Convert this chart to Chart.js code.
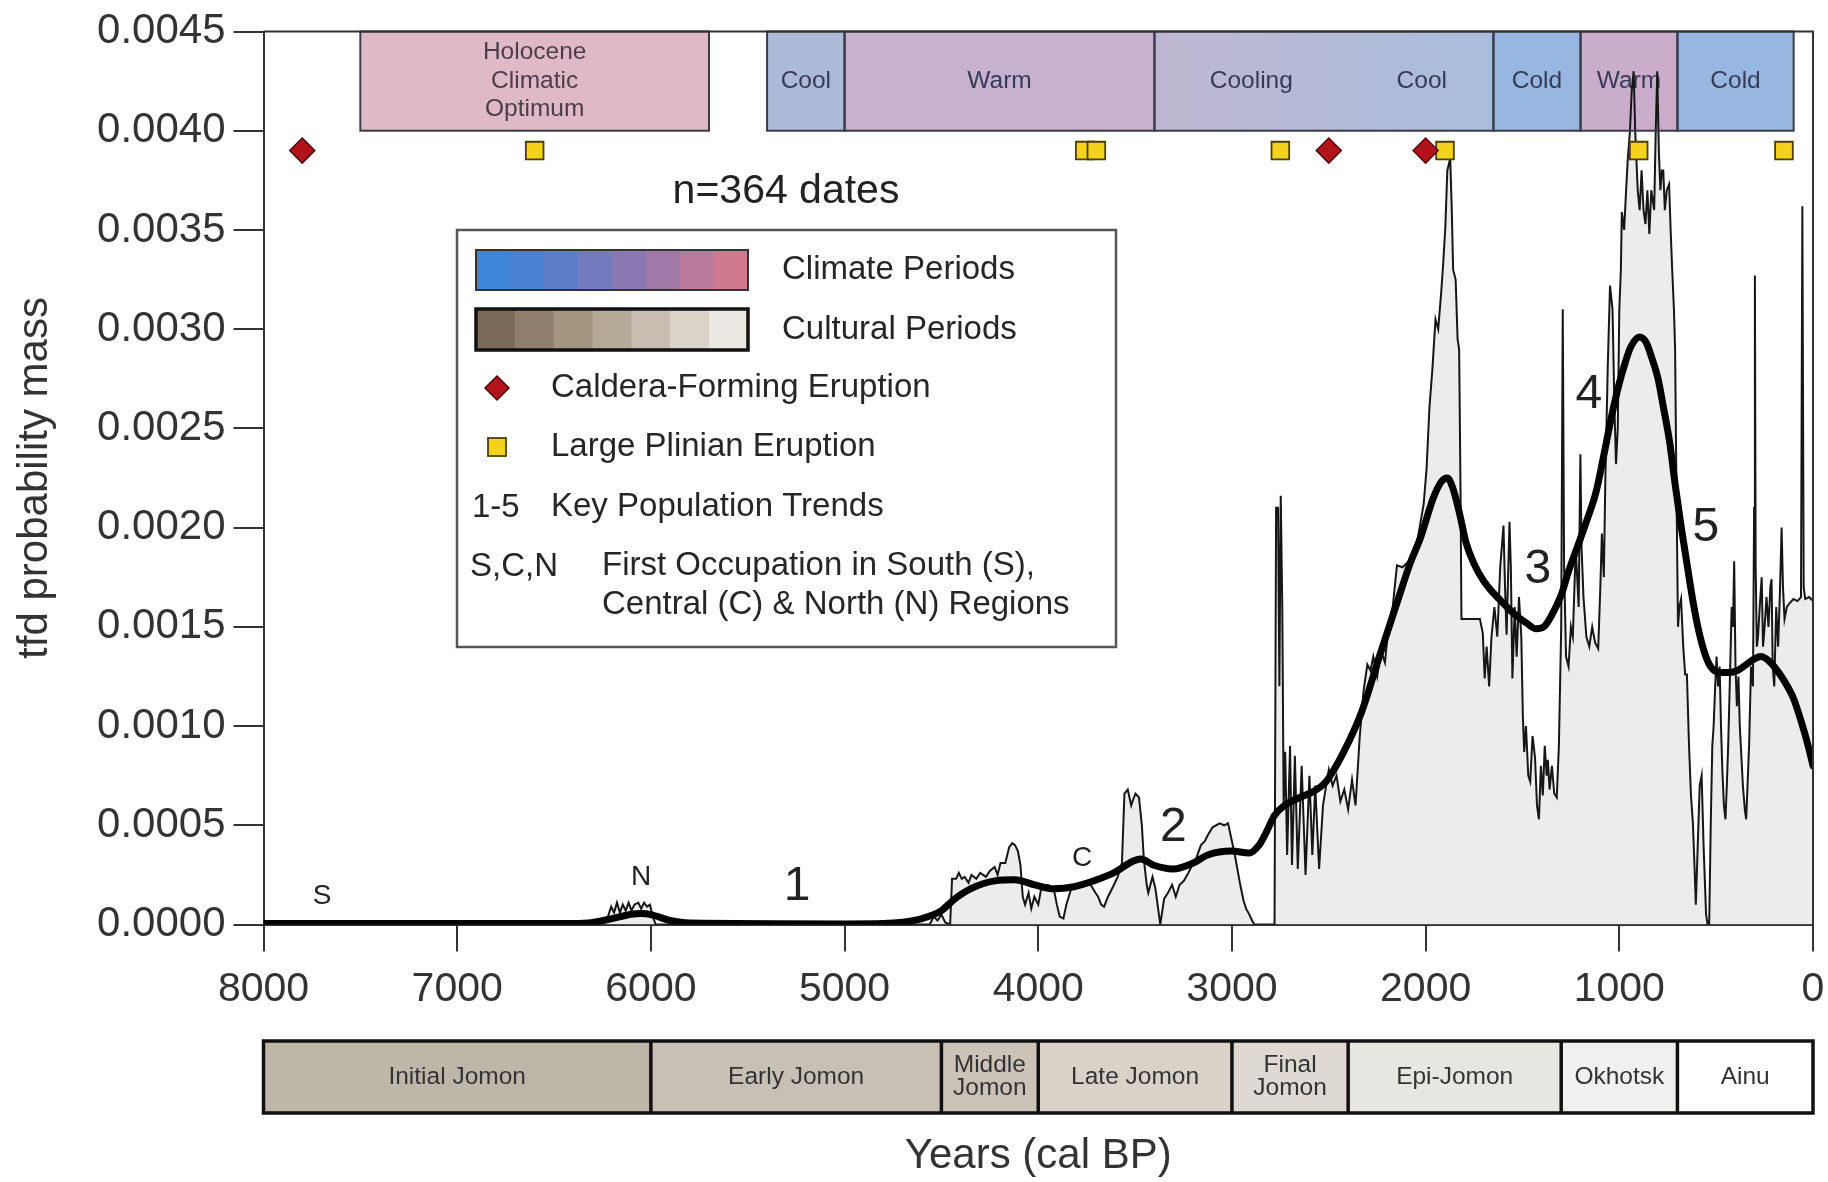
<!DOCTYPE html>
<html><head><meta charset="utf-8">
<script src="https://cdn.jsdelivr.net/npm/chart.js@4.4.0/dist/chart.umd.min.js"></script>
<style>html,body{margin:0;padding:0;background:#fff;}canvas{display:block}</style>
</head><body>
<canvas id="c" width="1828" height="1182"></canvas>
<script>
// ---------------- DATA ----------------
// thin (raw) summed probability curve: [year cal BP, probability mass]
const rawCurve = [
[8000,0],[6260,0],[6225,0.00003],[6205,0.00009],[6190,0.00006],[6175,0.00011],[6160,0.00006],[6145,0.0001],[6130,0.00007],[6115,0.00011],
[6100,0.00007],[6085,0.0001],[6065,0.00011],[6050,0.00008],[6035,0.00011],[6020,0.00009],[6005,0.0001],[5990,0.00004],[5975,0],[4560,0],
[4540,0.00004],[4520,0.00002],[4500,0.00005],[4480,0.00001],[4455,0],[4445,0.00023],[4424,0.00023],[4410,0.00026],[4395,0.00023],[4380,0.00024],
[4360,0.00021],[4345,0.00025],[4320,0.00023],[4300,0.00026],[4270,0.00024],[4250,0.00027],[4225,0.00029],[4210,0.00025],[4195,0.00031],[4170,0.00031],
[4150,0.00039],[4134,0.00041],[4120,0.0004],[4105,0.00037],[4092,0.0003],[4080,0.00014],[4068,0.0001],[4050,0.00016],[4036,0.00008],[4020,0.00014],
[4000,0.0001],[3985,0.00018],[3950,0.0002],[3920,0.00018],[3904,0.0001],[3889,0.00004],[3870,0.00003],[3855,0.0001],[3830,0.00018],[3800,0.0002],
[3760,0.00021],[3736,0.00021],[3705,0.00016],[3691,0.00014],[3675,0.0001],[3660,0.00009],[3640,0.00014],[3614,0.00019],[3590,0.00024],[3568,0.00031],
[3555,0.00066],[3538,0.00068],[3520,0.0006],[3510,0.00063],[3498,0.00066],[3480,0.00064],[3465,0.0005],[3455,0.00033],[3440,0.0002],[3432,0.00016],
[3410,0.00024],[3395,0.00018],[3370,0],[3350,0.00013],[3330,0.00016],[3309,0.0002],[3290,0.00014],[3270,0.0002],[3248,0.00022],[3225,0.00026],
[3200,0.00031],[3186,0.00033],[3160,0.0004],[3140,0.00042],[3125,0.00045],[3100,0.00049],[3064,0.00051],[3040,0.0005],[3020,0.00051],[3009,0.00046],
[2985,0.00035],[2957,0.0002],[2940,0.00012],[2927,0.00008],[2910,0.00005],[2896,0.00002],[2885,0],[2780,0],[2772,0.0021],[2762,0.0021],
[2755,0.0012],[2748,0.00216],[2740,0.0016],[2733,0.0006],[2725,0.00087],[2715,0.00035],[2700,0.0009],[2690,0.0003],[2675,0.00085],[2660,0.00028],
[2640,0.0008],[2620,0.00025],[2600,0.00075],[2585,0.00035],[2570,0.0007],[2550,0.00028],[2530,0.0006],[2500,0.00078],[2480,0.0007],[2460,0.00075],
[2440,0.00062],[2420,0.00068],[2400,0.00058],[2380,0.00073],[2362,0.0006],[2340,0.00095],[2320,0.00118],[2301,0.00131],[2285,0.00128],[2270,0.00135],
[2250,0.00125],[2230,0.00138],[2210,0.00132],[2190,0.00152],[2170,0.0016],[2148,0.00181],[2120,0.0018],[2087,0.00183],[2060,0.00187],[2040,0.00195],
[2010,0.00212],[1995,0.0023],[1980,0.00261],[1965,0.0028],[1949,0.00305],[1935,0.003],[1920,0.00318],[1910,0.00332],[1898,0.00352],[1888,0.0038],
[1873,0.00386],[1865,0.0036],[1858,0.0033],[1845,0.00325],[1835,0.00295],[1827,0.0029],[1820,0.0022],[1815,0.00154],[1720,0.00154],[1705,0.00147],
[1695,0.00124],[1685,0.0014],[1672,0.0012],[1660,0.00145],[1645,0.0016],[1630,0.00145],[1615,0.0018],[1598,0.00201],[1590,0.0017],[1582,0.00146],
[1567,0.00203],[1560,0.0018],[1552,0.00124],[1540,0.0016],[1530,0.00135],[1518,0.00165],[1506,0.00145],[1498,0.00105],[1491,0.00087],[1482,0.001],
[1470,0.00075],[1460,0.00072],[1448,0.00095],[1435,0.00084],[1425,0.0006],[1415,0.00053],[1405,0.0008],[1395,0.00065],[1385,0.0009],[1375,0.00075],
[1369,0.00083],[1360,0.00068],[1348,0.0008],[1336,0.00066],[1323,0.00064],[1312,0.0009],[1300,0.0015],[1292,0.0031],[1285,0.0018],[1275,0.00135],
[1262,0.0013],[1250,0.0015],[1240,0.00145],[1225,0.0019],[1210,0.0016],[1201,0.00237],[1195,0.0019],[1185,0.00165],[1170,0.00145],[1155,0.0014],
[1140,0.0015],[1125,0.00142],[1109,0.00139],[1098,0.0017],[1090,0.00197],[1080,0.00175],[1072,0.00225],[1060,0.0028],[1048,0.00322],[1035,0.0031],
[1025,0.0026],[1017,0.00232],[1008,0.0025],[1000,0.0031],[992,0.0033],[987,0.00359],[975,0.0035],[965,0.0037],[956,0.00386],[945,0.004],
[936,0.0042],[926,0.0043],[918,0.004],[905,0.0037],[895,0.0036],[885,0.0038],[875,0.0036],[865,0.00353],[855,0.0037],[845,0.00348],
[835,0.0037],[820,0.0036],[812,0.004],[804,0.0043],[796,0.0039],[788,0.0037],[780,0.0038],[773,0.0038],[765,0.0036],[755,0.0037],
[743,0.00373],[735,0.0035],[727,0.0033],[718,0.0031],[712,0.0029],[705,0.0022],[697,0.0015],[690,0.0016],[681,0.00164],[670,0.0014],
[660,0.00126],[651,0.00126],[640,0.0009],[630,0.00065],[620,0.00051],[612,0.0003],[605,0.0001],[595,0.0004],[585,0.0007],[575,0.00075],
[565,0.0004],[552,0.00005],[544,0],[536,0],[528,0.0005],[520,0.0009],[513,0.001],[505,0.0012],[498,0.00135],[490,0.0012],
[482,0.0013],[475,0.001],[468,0.00078],[460,0.0006],[452,0.00053],[445,0.0007],[438,0.0009],[430,0.0012],[420,0.0016],[413,0.0015],
[407,0.00183],[400,0.0013],[393,0.0011],[385,0.00125],[378,0.001],[370,0.00085],[362,0.0007],[352,0.00058],[345,0.00053],[338,0.0007],
[330,0.0009],[320,0.0013],[310,0.0012],[304,0.0021],[300,0.00327],[296,0.0018],[290,0.0014],[284,0.00145],[275,0.0016],[265,0.00175],
[258,0.0014],[250,0.0015],[240,0.00165],[230,0.0015],[220,0.0017],[214,0.00174],[208,0.0013],[200,0.0012],[190,0.0016],[180,0.0014],
[170,0.0017],[162,0.002],[155,0.0017],[147,0.00154],[135,0.0016],[120,0.00162],[101,0.00164],[80,0.00163],[62,0.00165],[55,0.00362],
[48,0.0017],[40,0.00164],[20,0.00165],[0,0.00163]
];

// smoothed trend curve: [year cal BP, probability mass]
const smoothCurve = [
[8000,0.000005],[6400,0.000005],[6300,0.00001],[6200,0.00003],[6100,0.000052],[6050,0.000055],[6000,0.00005],[5900,0.00002],[5800,0.000007],[5000,0.000003],
[4800,0.000005],[4700,0.000012],[4600,0.00003],[4500,0.00007],[4430,0.00013],[4350,0.00018],[4224,0.00022],[4122,0.000225],[4019,0.0002],[3918,0.00018],
[3816,0.00019],[3714,0.00022],[3611,0.00026],[3509,0.00032],[3470,0.00033],[3407,0.0003],[3305,0.00028],[3200,0.00031],[3125,0.00035],[3003,0.00037],
[2912,0.00036],[2860,0.0004],[2820,0.00047],[2780,0.00055],[2728,0.0006],[2650,0.00064],[2580,0.00067],[2514,0.00072],[2423,0.00087],[2331,0.00107],
[2239,0.00135],[2148,0.00162],[2080,0.00182],[2026,0.00195],[1960,0.00215],[1920,0.00223],[1888,0.00225],[1860,0.0022],[1827,0.00208],[1790,0.00192],
[1751,0.00182],[1700,0.00173],[1659,0.00168],[1600,0.00162],[1537,0.00156],[1480,0.00152],[1430,0.00149],[1390,0.0015],[1354,0.00155],[1300,0.00166],
[1262,0.00178],[1210,0.00192],[1170,0.00203],[1120,0.00218],[1079,0.00237],[1040,0.00256],[1002,0.00272],[970,0.00283],[941,0.00291],[895,0.00296],
[860,0.00293],[834,0.00286],[800,0.00275],[773,0.00261],[740,0.00243],[712,0.00222],[680,0.002],[651,0.00182],[620,0.00163],[590,0.00148],
[560,0.00137],[529,0.0013],[480,0.00127],[437,0.00127],[390,0.00128],[345,0.00131],[300,0.00134],[269,0.00135],[230,0.00133],[193,0.00129],
[150,0.00123],[101,0.00114],[60,0.00102],[25,0.0009],[0,0.0008]
];

// eruptions (years cal BP), drawn at one level
const calderaYears = [7800, 2500, 2000];
const plinianYears = [6600, 3760, 3700, 2750, 1900, 900, 150];
const eruptionLevel = 0.0039;

// climate periods (top band, between two probability levels)
const climateStart = [7500, 5400, 5000, 3400, 1650, 1200, 700];
const climateEnd   = [5700, 5000, 3400, 1650, 1200, 700, 100];
const climateTexts = ['Holocene\nClimatic\nOptimum', 'Cool', 'Warm', 'Cooling', 'Cool', 'Cold', 'Warm', 'Cold'];
const climateTextYears = [6600, 5200, 4200, 2900, 2020, 1425, 950, 400];
const climateBandLevels = [0.0040, 0.0045];

// cultural periods (band below the axis)
const cultureStart = [8000, 6000, 4500, 4000, 3000, 2400, 1300, 700];
const cultureEnd   = [6000, 4500, 4000, 3000, 2400, 1300, 700, 0];
const cultureNames = ['Initial Jomon', 'Early Jomon', 'Middle\nJomon', 'Late Jomon', 'Final\nJomon', 'Epi-Jomon', 'Okhotsk', 'Ainu'];

// trend / occupation annotations
const annotTexts  = ['S', 'N', '1', 'C', '2', '3', '4', '5'];
const annotYears  = [7697, 6051, 5245, 3774, 3302, 1420, 1157, 553];
const annotValues = [0.00014, 0.00024, 0.00019, 0.000335, 0.000486, 0.00179, 0.00267, 0.002];

// axis settings
const xMin = 0, xMax = 8000, xStep = 1000;
const yMin = 0, yMax = 0.0045, yStep = 0.0005;

// ---------------- STYLES ----------------
const FONT = "'Liberation Sans', Arial, Helvetica, sans-serif";
const climateFills = ['#dfbac6', '#adbad7', '#c6b2ce', ['#bfb7d1', '#a8bddc'], '#98b7e0', '#c9adcb', '#98b7e0'];
const cultureFills = ['#bfb6aa', '#c9c0b5', '#cbc3b8', '#d8d2c9', '#dedad3', '#e7e6e0', '#f0f0ee', '#ffffff'];
const climateSwatch = ['#3d86d8', '#4a81d1', '#5c7dc8', '#737abd', '#8a78b2', '#a179a8', '#b97a9b', '#d07b8d'];
const cultureSwatch = ['#7b6a57', '#8f7f6c', '#a39580', '#b5a998', '#c7beb1', '#d9d3ca', '#ebe8e3'];

function text(ctx, s, x, y, size, color, align) {
  ctx.font = size + 'px ' + FONT;
  ctx.fillStyle = color;
  ctx.textAlign = align || 'center';
  ctx.textBaseline = 'middle';
  ctx.fillText(s, x, y);
}

const decor = {
  id: 'decor',
  afterDatasetsDraw(chart) {
    const ctx = chart.ctx, X = chart.scales.x, Y = chart.scales.y, ca = chart.chartArea;
    const top = Y.getPixelForValue(climateBandLevels[1]), bot = Y.getPixelForValue(climateBandLevels[0]);
    ctx.save();
    for (let i = 0; i < climateStart.length; i++) {
      const x1 = X.getPixelForValue(climateStart[i]), x2 = X.getPixelForValue(climateEnd[i]);
      let f = climateFills[i];
      if (Array.isArray(f)) { const g = ctx.createLinearGradient(x1, 0, x2, 0); g.addColorStop(0, f[0]); g.addColorStop(1, f[1]); f = g; }
      ctx.fillStyle = f;
      ctx.fillRect(x1, top, x2 - x1, bot - top);
    }
    for (let i = 0; i < climateTexts.length; i++) {
      const lines = climateTexts[i].split('\n');
      const cx = X.getPixelForValue(climateTextYears[i]);
      const cy = (top + bot) / 2;
      const lh = 28.5;
      lines.forEach((l, k) => text(ctx, l, cx, cy + (k - (lines.length - 1) / 2) * lh, 24.5, i === 0 ? '#4b3d4a' : '#363a55'));
    }
    ctx.save();
    ctx.beginPath(); ctx.rect(ca.left, top, ca.right - ca.left, bot - top); ctx.clip();
    const meta = chart.getDatasetMeta(3);
    meta.dataset.draw(ctx, ca);
    ctx.restore();
    ctx.strokeStyle = '#3a3a48'; ctx.lineWidth = 2;
    for (let i = 0; i < climateStart.length; i++) {
      const x1 = X.getPixelForValue(climateStart[i]), x2 = X.getPixelForValue(climateEnd[i]);
      ctx.strokeRect(x1, top, x2 - x1, bot - top);
    }
    ctx.restore();
  },
  afterDraw(chart) {
    const ctx = chart.ctx, X = chart.scales.x, Y = chart.scales.y, ca = chart.chartArea;
    ctx.save();
    ctx.strokeStyle = '#333'; ctx.lineWidth = 2;
    ctx.beginPath();
    ctx.moveTo(ca.left, ca.top); ctx.lineTo(ca.right, ca.top); ctx.lineTo(ca.right, ca.bottom);
    ctx.stroke();

    const cTop = 1041, cBot = 1113;
    for (let i = 0; i < cultureStart.length; i++) {
      const x1 = X.getPixelForValue(cultureStart[i]), x2 = X.getPixelForValue(cultureEnd[i]);
      ctx.fillStyle = cultureFills[i];
      ctx.fillRect(x1, cTop, x2 - x1, cBot - cTop);
      const lines = cultureNames[i].split('\n');
      const cx = (x1 + x2) / 2, cy = (cTop + cBot) / 2;
      lines.forEach((l, k) => text(ctx, l, cx, cy + (k - (lines.length - 1) / 2) * 23, 24.5, '#333'));
    }
    ctx.strokeStyle = '#111'; ctx.lineWidth = 3.5;
    ctx.strokeRect(X.getPixelForValue(xMax), cTop, X.getPixelForValue(xMin) - X.getPixelForValue(xMax), cBot - cTop);
    ctx.beginPath();
    for (let i = 1; i < cultureStart.length; i++) {
      const xx = X.getPixelForValue(cultureStart[i]);
      ctx.moveTo(xx, cTop); ctx.lineTo(xx, cBot);
    }
    ctx.stroke();

    for (let i = 0; i < annotTexts.length; i++) {
      const big = /\d/.test(annotTexts[i]);
      text(ctx, annotTexts[i], X.getPixelForValue(annotYears[i]), Y.getPixelForValue(annotValues[i]), big ? 48 : 28, '#222');
    }

    text(ctx, 'n=364 dates', 786, 192, 41, '#222');

    const L = 457, T = 230, R = 1116, B = 647;
    ctx.fillStyle = '#fff'; ctx.fillRect(L, T, R - L, B - T);
    ctx.strokeStyle = '#555'; ctx.lineWidth = 2.5; ctx.strokeRect(L, T, R - L, B - T);
    const sw1 = 476, sw2 = 748;
    let w = (sw2 - sw1) / climateSwatch.length;
    climateSwatch.forEach((c, k) => { ctx.fillStyle = c; ctx.fillRect(sw1 + k * w, 250, w + 0.5, 40); });
    ctx.strokeStyle = '#333'; ctx.lineWidth = 2; ctx.strokeRect(sw1, 250, sw2 - sw1, 40);
    w = (sw2 - sw1) / cultureSwatch.length;
    cultureSwatch.forEach((c, k) => { ctx.fillStyle = c; ctx.fillRect(sw1 + k * w, 309, w + 0.5, 41); });
    ctx.strokeStyle = '#111'; ctx.lineWidth = 3.5; ctx.strokeRect(sw1, 309, sw2 - sw1, 41);
    const fs = 33, tc = '#262626';
    text(ctx, 'Climate Periods', 782, 270, fs, tc, 'left');
    text(ctx, 'Cultural Periods', 782, 330, fs, tc, 'left');
    ctx.beginPath();
    ctx.moveTo(497, 376); ctx.lineTo(509, 388); ctx.lineTo(497, 400); ctx.lineTo(485, 388); ctx.closePath();
    ctx.fillStyle = '#b3141c'; ctx.fill(); ctx.strokeStyle = '#4d0a0a'; ctx.lineWidth = 1.5; ctx.stroke();
    text(ctx, 'Caldera-Forming Eruption', 551, 388, fs, tc, 'left');
    ctx.fillStyle = '#f3d21c'; ctx.fillRect(488, 438, 18, 18);
    ctx.strokeStyle = '#4a3f00'; ctx.lineWidth = 1.8; ctx.strokeRect(488, 438, 18, 18);
    text(ctx, 'Large Plinian Eruption', 551, 447, fs, tc, 'left');
    text(ctx, '1-5', 472, 508, fs, tc, 'left');
    text(ctx, 'Key Population Trends', 551, 507, fs, tc, 'left');
    text(ctx, 'S,C,N', 470, 567, fs, tc, 'left');
    text(ctx, 'First Occupation in South (S),', 602, 566, fs, tc, 'left');
    text(ctx, 'Central (C) & North (N) Regions', 602, 605, fs, tc, 'left');
    ctx.restore();
  }
};

const pts = arr => arr.map(p => ({ x: p[0], y: p[1] }));

new Chart(document.getElementById('c'), {
  type: 'line',
  data: {
    datasets: [
      { label: 'Caldera-Forming Eruption', data: calderaYears.map(v => ({ x: v, y: eruptionLevel })), showLine: false,
        pointStyle: 'rectRot', pointRadius: 12.5, pointBackgroundColor: '#b3141c', pointBorderColor: '#4d0a0a', pointBorderWidth: 1.5 },
      { label: 'Large Plinian Eruption', data: plinianYears.map(v => ({ x: v, y: eruptionLevel })), showLine: false,
        pointStyle: 'rect', pointRadius: 12.5, pointBackgroundColor: '#f3d21c', pointBorderColor: '#4a3f00', pointBorderWidth: 1.8 },
      { label: 'trend', data: pts(smoothCurve), borderColor: '#000', borderWidth: 7, pointRadius: 0,
        cubicInterpolationMode: 'monotone', fill: false, borderCapStyle: 'round', borderJoinStyle: 'round' },
      { label: 'tfd', data: pts(rawCurve), borderColor: '#161616', borderWidth: 2, pointRadius: 0, tension: 0,
        fill: 'origin', backgroundColor: '#ececec' }
    ]
  },
  options: {
    responsive: false, animation: false, events: [],
    layout: { padding: { left: 0, right: 15, top: 31.5, bottom: 0 } },
    plugins: { legend: { display: false }, tooltip: { enabled: false } },
    scales: {
      x: {
        type: 'linear', reverse: true, min: xMin, max: xMax,
        ticks: { stepSize: xStep, callback: v => String(v), font: { family: FONT, size: 41 }, color: '#333', padding: 14, maxRotation: 0, autoSkip: false },
        grid: { drawOnChartArea: false, drawTicks: true, tickLength: 27, color: '#333', lineWidth: 2 },
        border: { color: '#333', width: 2 },
        title: { display: true, text: 'Years (cal BP)', font: { family: FONT, size: 42 }, color: '#333', padding: { top: 0, bottom: 0 } },
        afterFit: s => { s.height = 257.5; s.paddingLeft = 0; s.paddingRight = 0; }
      },
      y: {
        min: yMin, max: yMax,
        ticks: { stepSize: yStep, callback: v => v.toFixed(4), font: { family: FONT, size: 42 }, color: '#333', padding: 8, autoSkip: false },
        grid: { drawOnChartArea: false, drawTicks: true, tickLength: 30, color: '#333', lineWidth: 2 },
        border: { color: '#333', width: 2 },
        title: { display: true, text: 'tfd probability mass', font: { family: FONT, size: 42 }, color: '#333', padding: { top: 10, bottom: 0 } },
        afterFit: s => { s.width = 263.5; s.paddingTop = 0; s.paddingBottom = 0; }
      }
    }
  },
  plugins: [decor]
});
</script>
</body></html>
